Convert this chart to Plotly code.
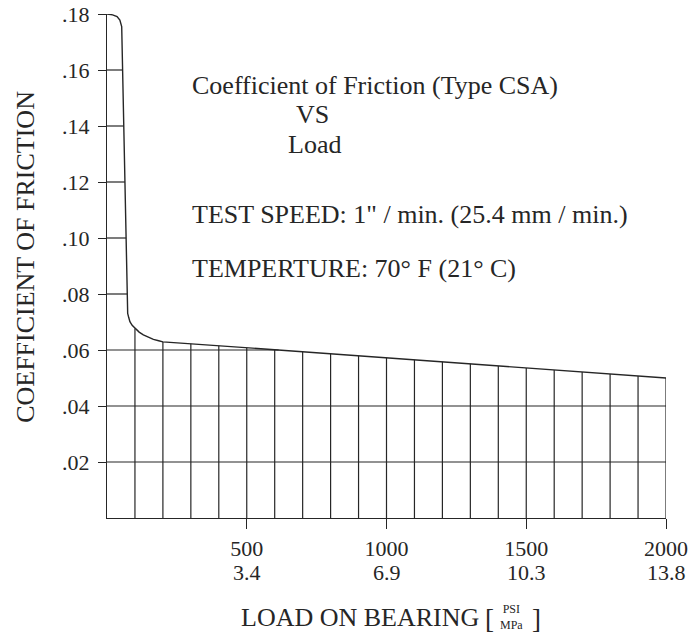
import numpy as np
import plotly.graph_objects as go

# ---- data ----
load_psi = [0, 20, 36, 46, 52.6, 74, 78, 82, 90, 100, 115, 130, 148, 166, 185, 200, 600, 2000]
friction = [0.1800, 0.1797, 0.1791, 0.1778, 0.1755, 0.0731, 0.0715, 0.0701, 0.0688, 0.0677,
            0.0664, 0.0654, 0.0645, 0.0638, 0.0633, 0.0629, 0.0601, 0.0500]

x_tick_psi = [500, 1000, 1500, 2000]
x_tick_mpa = ["3.4", "6.9", "10.3", "13.8"]
y_ticks = [0.02, 0.04, 0.06, 0.08, 0.10, 0.12, 0.14, 0.16, 0.18]
y_tick_labels = [".02", ".04", ".06", ".08", ".10", ".12", ".14", ".16", ".18"]

grid_x = list(range(100, 2001, 100))
grid_y = [0.02, 0.04, 0.06, 0.08, 0.10, 0.12, 0.14, 0.16]

INK = "#262626"
FONT = "Liberation Serif"

# grid clipped beneath the curve
lp = np.array(load_psi, dtype=float)
fr = np.array(friction, dtype=float)
gx, gy = [], []
for xv in grid_x:
    top = float(np.interp(xv, lp, fr))
    gx += [xv, xv, None]
    gy += [0, top, None]
for yv in grid_y:
    xe = float(np.interp(yv, fr[::-1], lp[::-1]))
    gx += [0, xe, None]
    gy += [yv, yv, None]

fig = go.Figure()
fig.add_trace(go.Scatter(x=gx, y=gy, mode="lines",
                         line=dict(color=INK, width=1.2), hoverinfo="skip", showlegend=False))
fig.add_trace(go.Scatter(x=load_psi, y=friction, mode="lines",
                         line=dict(color=INK, width=1.4), showlegend=False))

fig.update_layout(
    width=690, height=633,
    margin=dict(l=107, r=24, t=14, b=115),
    paper_bgcolor="white", plot_bgcolor="white",
    font=dict(family=FONT, color=INK),
    xaxis=dict(range=[0, 2000], showgrid=False, zeroline=False, showline=True, automargin=False,
               linecolor=INK, linewidth=1.4, ticks="outside", ticklen=10, tickcolor=INK,
               tickwidth=1.2,
               tickvals=x_tick_psi, ticktext=[str(p) for p in x_tick_psi],
               ticklabelstandoff=0,
               tickfont=dict(family=FONT, size=22, color=INK)),
    yaxis=dict(range=[0, 0.18], showgrid=False, zeroline=False, showline=True, automargin=False,
               linecolor=INK, linewidth=1.4, ticks="outside", ticklen=8, tickcolor=INK,
               tickwidth=1.2,
               tickvals=y_ticks, ticktext=y_tick_labels,
               ticklabelstandoff=4,
               tickfont=dict(family=FONT, size=22, color=INK)),
)

# second line of x tick labels (MPa)
for p, m in zip(x_tick_psi, x_tick_mpa):
    fig.add_annotation(text=m, x=p, y=-0.109, xref="x", yref="paper", showarrow=False,
                       xanchor="center", yanchor="middle",
                       font=dict(family=FONT, size=22, color=INK))

def note(text, x, y, xanchor="left", size=26):
    fig.add_annotation(text=text, x=x, y=y, xref="x", yref="y", showarrow=False,
                       xanchor=xanchor, yanchor="middle",
                       font=dict(family=FONT, size=size, color=INK))

note("Coefficient of Friction (Type CSA)", 297, 0.1546)
note("VS", 735, 0.1440, xanchor="center")
note("Load", 744, 0.1333, xanchor="center")
note("TEST SPEED: 1\" / min. (25.4 mm / min.)", 297, 0.1085)
note("TEMPERTURE: 70° F (21° C)", 297, 0.0890)

def pnote(text, x, y, size, angle=0, xanchor="center"):
    fig.add_annotation(text=text, x=x, y=y, xref="paper", yref="paper", showarrow=False,
                       xanchor=xanchor, yanchor="middle", textangle=angle,
                       font=dict(family=FONT, size=size, color=INK))

pnote("COEFFICIENT OF FRICTION", -0.145, 0.518, 26, angle=-90)
pnote("LOAD ON BEARING", 0.453, -0.198, 26)
pnote("[", 0.685, -0.200, 27)
pnote("PSI<br>MPa", 0.7245, -0.197, 12)
pnote("]", 0.768, -0.200, 27)

fig.write_html("out.html", config={"displayModeBar": False},
               post_script="document.body.style.margin='0';")
